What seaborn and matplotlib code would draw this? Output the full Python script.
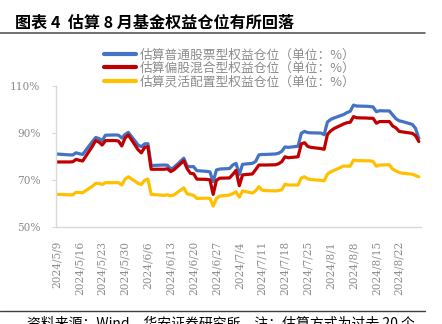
import matplotlib
matplotlib.use("Agg")
import matplotlib.pyplot as plt
import matplotlib.ticker as mticker
import pandas as pd
import seaborn as sns

# Trading days covered by the estimate
dates = [
    "2024-05-09", "2024-05-10", "2024-05-13", "2024-05-14", "2024-05-15", "2024-05-16", "2024-05-17",
    "2024-05-20", "2024-05-21", "2024-05-22", "2024-05-23", "2024-05-24",
    "2024-05-27", "2024-05-28", "2024-05-29", "2024-05-30", "2024-05-31",
    "2024-06-03", "2024-06-04", "2024-06-05", "2024-06-06", "2024-06-07",
    "2024-06-11", "2024-06-12", "2024-06-13", "2024-06-14",
    "2024-06-17", "2024-06-18", "2024-06-19", "2024-06-20", "2024-06-21",
    "2024-06-24", "2024-06-25", "2024-06-26", "2024-06-27", "2024-06-28",
    "2024-07-01", "2024-07-02", "2024-07-03", "2024-07-04", "2024-07-05",
    "2024-07-08", "2024-07-09", "2024-07-10", "2024-07-11", "2024-07-12",
    "2024-07-15", "2024-07-16", "2024-07-17", "2024-07-18", "2024-07-19",
    "2024-07-22", "2024-07-23", "2024-07-24", "2024-07-25", "2024-07-26",
    "2024-07-29", "2024-07-30", "2024-07-31", "2024-08-01", "2024-08-02",
    "2024-08-05", "2024-08-06", "2024-08-07", "2024-08-08", "2024-08-09",
    "2024-08-12", "2024-08-13", "2024-08-14", "2024-08-15", "2024-08-16",
    "2024-08-19", "2024-08-20", "2024-08-21", "2024-08-22", "2024-08-23",
    "2024-08-26", "2024-08-27", "2024-08-28",
]

# Estimated equity positions (%)
stock_fund = [
    81.2, 81.1, 80.8, 80.8, 81.7, 81.3, 81.0,
    86.5, 88.2, 87.8, 86.9, 89.2,
    89.3, 89.2, 88.0, 89.5, 90.4,
    85.0, 84.3, 85.5, 85.6, 76.3,
    76.5, 76.4, 74.8, 75.5,
    79.4, 76.0, 75.8, 75.8, 74.1,
    73.8, 73.6, 69.4, 74.4, 74.8,
    75.0, 76.5, 77.2, 72.5, 76.8,
    77.2, 78.0, 80.8, 81.0, 81.0,
    81.2, 81.5, 82.3, 84.2, 84.0,
    84.5, 90.0, 90.8, 90.3, 90.2,
    90.1, 89.4, 94.8, 95.9, 96.5,
    98.0, 98.8, 99.4, 102.0, 101.6,
    101.5, 101.4, 101.2, 99.2, 99.6,
    99.5, 97.8, 96.2, 95.3, 95.0,
    93.8, 92.1, 87.9,
]
hybrid_fund = [
    77.8, 77.8, 77.8, 77.9, 78.9, 78.5, 78.2,
    84.5, 86.9, 86.3, 85.0, 86.9,
    86.9, 86.7, 84.6, 88.0, 89.3,
    83.0, 81.7, 84.0, 84.3, 74.7,
    74.7, 74.9, 73.7, 74.5,
    78.3, 75.0, 73.0, 72.8, 70.5,
    70.4, 70.2, 64.0, 70.0, 70.9,
    71.0, 72.5, 74.2, 67.7, 72.3,
    72.7, 74.5, 76.5, 76.5, 76.5,
    76.6, 77.0, 77.9, 80.0, 79.6,
    80.0, 85.5, 86.0, 84.4, 84.0,
    83.5, 83.2, 89.5, 91.0, 92.0,
    94.0, 94.5, 94.7, 97.1, 96.6,
    96.5, 96.4, 96.4, 94.3, 95.0,
    95.0, 93.1, 92.3, 90.8, 90.6,
    90.0, 89.0, 86.5,
]
flexible_fund = [
    64.0, 64.0, 63.8, 63.8, 64.9, 64.8, 64.7,
    67.5, 68.7, 68.7, 68.2, 69.0,
    69.0, 69.0, 68.0, 70.5, 71.5,
    68.7, 68.2, 70.0, 70.5, 64.0,
    63.6, 63.8, 63.4, 63.8,
    66.8, 64.3, 63.9, 63.6, 62.3,
    62.4, 62.3, 59.0, 62.3, 63.3,
    63.7, 64.3, 65.1, 62.8, 65.5,
    64.6, 65.5, 67.3, 65.8, 65.6,
    65.5, 65.6, 66.0, 68.3, 68.0,
    68.0, 71.0, 71.5, 70.6, 70.3,
    70.0, 69.8, 72.6, 73.6, 74.2,
    76.1, 76.0, 76.0, 78.6, 78.4,
    78.3, 78.3, 78.0, 76.0, 76.5,
    76.6, 74.7, 74.0, 73.3, 73.0,
    72.6, 72.0, 71.5,
]

series_names = [
    "估算普通股票型权益仓位（单位：%）",
    "估算偏股混合型权益仓位（单位：%）",
    "估算灵活配置型权益仓位（单位：%）",
]
series_colors = ["#4472C4", "#C00000", "#FFC000"]

tick_dates = [
    "2024-05-09", "2024-05-16", "2024-05-23", "2024-05-30", "2024-06-06", "2024-06-13",
    "2024-06-20", "2024-06-27", "2024-07-04", "2024-07-11", "2024-07-18", "2024-07-25",
    "2024-08-01", "2024-08-08", "2024-08-15", "2024-08-22",
]
tick_labels = [
    "2024/5/9", "2024/5/16", "2024/5/23", "2024/5/30", "2024/6/6", "2024/6/13",
    "2024/6/20", "2024/6/27", "2024/7/4", "2024/7/11", "2024/7/18", "2024/7/25",
    "2024/8/1", "2024/8/8", "2024/8/15", "2024/8/22",
]
y_ticks = [50, 70, 90, 110]

title_text = "图表 4  估算 8 月基金权益仓位有所回落"
source_text = "资料来源：Wind，华安证券研究所，注：估算方式为过去 20 个"

df = pd.DataFrame({
    "date": pd.to_datetime(dates),
    series_names[0]: stock_fund,
    series_names[1]: hybrid_fund,
    series_names[2]: flexible_fund,
}).melt(id_vars="date", var_name="series", value_name="value")

sns.set_theme(style="white")
plt.rcParams["font.family"] = ["Noto Sans CJK SC", "DejaVu Sans"]

W, H = 442, 324
fig = plt.figure(figsize=(W / 100, H / 100), dpi=100)
ax = fig.add_axes([55.7 / W, 1 - 227.3 / H, 365 / W, 141 / H])

sns.lineplot(
    data=df, x="date", y="value", hue="series", hue_order=series_names,
    palette=series_colors, linewidth=2.3, ax=ax, legend=False,
)
for ln in ax.get_lines():
    ln.set_solid_joinstyle("round")

ax.set_xlim(pd.Timestamp("2024-05-09") - pd.Timedelta(hours=6),
            pd.Timestamp("2024-08-28") + pd.Timedelta(hours=14))
ax.set_ylim(50, 110)

ax.set_xticks(pd.to_datetime(tick_dates))
ax.set_xticklabels(tick_labels, rotation=90, family="DejaVu Serif", fontsize=7.6, color="#8c8c8c")
ax.set_yticks(y_ticks)
ax.yaxis.set_major_formatter(mticker.FuncFormatter(lambda v, p: f"{v:.0f}%"))
for lbl in ax.get_yticklabels():
    lbl.set_family("DejaVu Serif")
    lbl.set_fontsize(7.6)
    lbl.set_color("#8c8c8c")
ax.tick_params(axis="y", which="major", left=True, length=3, width=0.8, color="#d9d9d9", pad=8)
ax.tick_params(axis="x", which="major", bottom=False, pad=4)
ax.set_xlabel("")
ax.set_ylabel("")

for side in ["top", "right"]:
    ax.spines[side].set_visible(False)
for side in ["left", "bottom"]:
    ax.spines[side].set_color("#d9d9d9")
    ax.spines[side].set_linewidth(1.0)

handles = ax.get_lines()[:3]
leg = fig.legend(
    handles, series_names, loc="upper left",
    bbox_to_anchor=(104 / W, 1 - 48.5 / H), frameon=False,
    fontsize=9.2, handlelength=2.5, handletextpad=0.3,
    labelspacing=0.02, borderpad=0, borderaxespad=0,
)
for t in leg.get_texts():
    t.set_color("#8c8c8c")
for h in leg.get_lines():
    h.set_linewidth(3.0)

# Title and rules
fig.text(15 / W, 1 - 22.5 / H, title_text, fontsize=11.6, fontweight="bold",
         color="black", va="center", ha="left")
fig.add_artist(plt.Line2D([0, 425 / W], [1 - 33.3 / H] * 2, color="#595959", linewidth=1.2))
fig.add_artist(plt.Line2D([0, 425 / W], [1 - 311 / H] * 2, color="#404040", linewidth=1.0))
fig.text(27 / W, 1 - 316 / H, source_text, fontsize=10, color="black", va="top", ha="left")

fig.savefig("out.png", dpi=100)
